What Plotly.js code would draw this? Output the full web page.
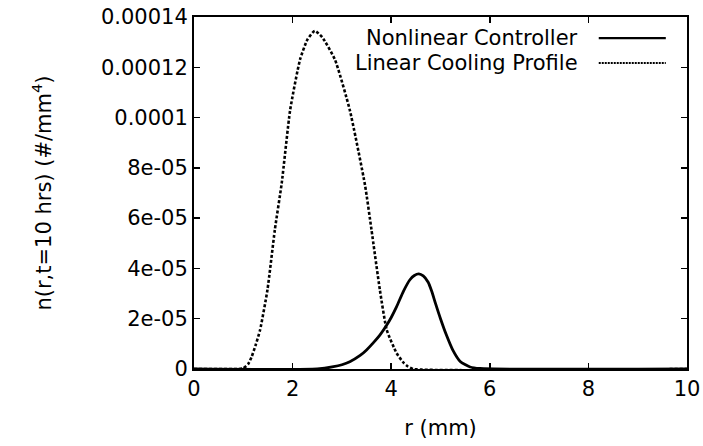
<!DOCTYPE html>
<html>
<head>
<meta charset="utf-8">
<script src="https://cdn.plot.ly/plotly-3.0.1.min.js"></script>
<style>html,body{margin:0;padding:0;background:#fff;}#chart{width:703px;height:446px;}</style>
</head>
<body>
<div id="chart"></div>
<script>
// Data
const seriesNames = ["Nonlinear Controller", "Linear Cooling Profile"];

const rNonlinear = [0, 2.5, 2.83, 3.0, 3.16, 3.37, 3.5, 3.64, 3.77, 3.91, 4.0, 4.11, 4.25, 4.38, 4.47, 4.56, 4.65, 4.75, 4.82, 4.9, 5.0, 5.12, 5.25, 5.4, 5.6, 5.8, 10];
const nNonlinear = [0, 0, 0.9e-6, 1.7e-6, 2.9e-6, 5.4e-6, 7.6e-6, 1.05e-5, 1.35e-5, 1.75e-5, 2.05e-5, 2.48e-5, 3.1e-5, 3.55e-5, 3.72e-5, 3.78e-5, 3.7e-5, 3.45e-5, 3.1e-5, 2.6e-5, 2.0e-5, 1.35e-5, 7.5e-6, 3.0e-6, 0.8e-6, 0.2e-6, 0];

const rLinear = [0, 0.9, 1.0, 1.1, 1.17, 1.25, 1.34, 1.49, 1.64, 1.78, 1.95, 2.15, 2.3, 2.45, 2.6, 2.86, 3.16, 3.47, 3.6, 3.77, 3.91, 4.11, 4.25, 4.34, 4.45, 10];
const nLinear = [0, 0, 0.3e-6, 2.0e-6, 4.9e-6, 9.5e-6, 1.55e-5, 3.15e-5, 5.54e-5, 7.4e-5, 1.03e-4, 1.23e-4, 1.31e-4, 1.345e-4, 1.32e-4, 1.23e-4, 1.03e-4, 7.3e-5, 5.54e-5, 3.15e-5, 1.55e-5, 6.3e-6, 2.5e-6, 1.0e-6, 0, 0];

const xTickVals = [0, 2, 4, 6, 8, 10];
const xTickText = ["0", "2", "4", "6", "8", "10"];
const yTickVals = [0, 2e-5, 4e-5, 6e-5, 8e-5, 1e-4, 1.2e-4, 1.4e-4];
const yTickText = ["0", "2e-05", "4e-05", "6e-05", "8e-05", "0.0001", "0.00012", "0.00014"];

const FONT = "DejaVu Sans, Liberation Sans, Arial, sans-serif";

const traces = [
  {x: rNonlinear, y: nNonlinear, name: seriesNames[0], mode: "lines", type: "scatter",
   line: {color: "#000", width: 2.8, dash: "solid", shape: "spline", smoothing: 0.6}, showlegend: false},
  {x: rLinear, y: nLinear, name: seriesNames[1], mode: "lines", type: "scatter",
   line: {color: "#000", width: 2.6, dash: "3px,2px", shape: "spline", smoothing: 0.5}, showlegend: false}
];

const legendY = [0.940, 0.869];
const annotations = seriesNames.map((t, i) => ({
  text: t, xref: "paper", yref: "paper", x: 0.783, y: legendY[i],
  xanchor: "right", yanchor: "middle", showarrow: false,
  font: {family: FONT, size: 21, color: "#000"}
}));
const shapes = [
  {type: "line", xref: "paper", yref: "paper", x0: 0.821, x1: 0.957, y0: legendY[0], y1: legendY[0], line: {color: "#000", width: 2.2}},
  {type: "line", xref: "paper", yref: "paper", x0: 0.821, x1: 0.957, y0: legendY[1], y1: legendY[1], line: {color: "#000", width: 2, dash: "2px,1px"}}
];

const layout = {
  width: 703, height: 446,
  margin: {l: 194, r: 16, t: 17, b: 77, pad: 0},
  paper_bgcolor: "#fff", plot_bgcolor: "#fff",
  font: {family: FONT, size: 21, color: "#000"},
  showlegend: false,
  xaxis: {
    range: [0, 10], tickvals: xTickVals, ticktext: xTickText,
    ticks: "inside", ticklen: 6, tickwidth: 1.5, tickcolor: "#000",
    showline: true, linecolor: "#000", linewidth: 2, mirror: "ticks",
    showgrid: false, zeroline: false,
    tickfont: {family: FONT, size: 21, color: "#000"},
    title: {text: "r (mm)", font: {family: FONT, size: 21, color: "#000"}, standoff: 20}
  },
  yaxis: {
    range: [0, 1.4e-4], tickvals: yTickVals, ticktext: yTickText,
    ticks: "inside", ticklen: 6, tickwidth: 1.5, tickcolor: "#000",
    showline: true, linecolor: "#000", linewidth: 2, mirror: "ticks",
    showgrid: false, zeroline: false,
    tickfont: {family: FONT, size: 21, color: "#000"},
    title: {text: "n(r,t=10 hrs) (#/mm<sup>4</sup>)", font: {family: FONT, size: 21, color: "#000"}, standoff: 44}
  },
  annotations: annotations,
  shapes: shapes
};

Plotly.newPlot("chart", traces, layout, {displayModeBar: false, staticPlot: true});
</script>
</body>
</html>
